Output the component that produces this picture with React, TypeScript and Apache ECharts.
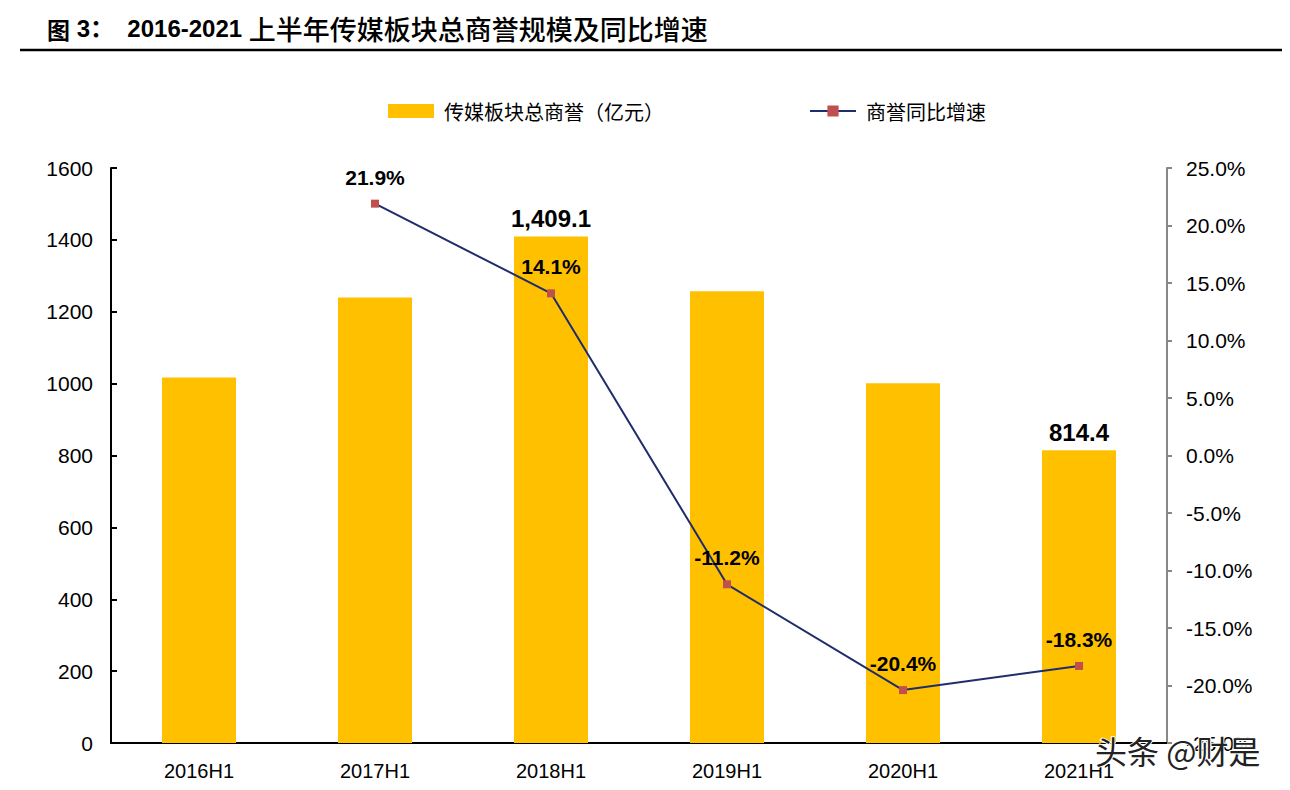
import React, { useEffect, useRef } from "react";
import * as echarts from "echarts";

const categories = ["2016H1", "2017H1", "2018H1", "2019H1", "2020H1", "2021H1"];
const goodwill = [1017, 1240, 1409.1, 1257, 1001, 814.4];
const goodwillLabelShown = [false, false, true, false, false, true];
const growth: (number | null)[] = [null, 21.9, 14.1, -11.2, -20.4, -18.3];
const titlePrefix = "图";
const titleNumber = " 3：  2016-2021 ";
const titleMain = "上半年传媒板块总商誉规模及同比增速";
const barName = "传媒板块总商誉（亿元）";
const lineName = "商誉同比增速";
const watermark = "头条 @财是";

const FONT = "'Liberation Sans', Arial, 'Noto Sans CJK SC', sans-serif";
const CJK = "'Noto Sans CJK SC', sans-serif";

export default function App() {
  const ref = useRef<HTMLDivElement>(null);
  useEffect(() => {
    const chart = echarts.init(ref.current!, null, { renderer: "svg" });
    chart.setOption({
      animation: false,
      textStyle: { fontFamily: FONT },
      graphic: [
        {
          type: "text",
          left: 39,
          top: 7,
          style: {
            text: `{a|${titlePrefix}}{b|${titleNumber}}{c|${titleMain}}`,
            rich: {
              a: { fontFamily: CJK, fontSize: 23, fontWeight: "bold", fill: "#000", color: "#000" },
              b: { fontFamily: FONT, fontSize: 24, fontWeight: "bold", fill: "#000", color: "#000" },
              c: { fontFamily: CJK, fontSize: 27, fontWeight: 500, fill: "#000", color: "#000" },
            },
          },
        },
        {
          type: "line",
          shape: { x1: 12, y1: 42, x2: 1275, y2: 42 },
          style: { stroke: "#000", lineWidth: 2.5 },
        },
        {
          type: "text",
          left: 1086,
          top: 725,
          z: 100,
          style: {
            text: watermark,
            font: `32px ${CJK}`,
            fill: "#222",
            stroke: "#fff",
            lineWidth: 2,
          },
        },
      ],
      legend: {
        top: 88,
        left: 375,
        itemGap: 145,
        itemWidth: 46,
        itemHeight: 14,
        textStyle: { fontSize: 20, color: "#000", fontFamily: CJK, padding: [0, 0, 0, 5] },
        data: [
          { name: barName, icon: "rect" },
          { name: lineName },
        ],
      },
      grid: { left: 103, right: 115, top: 160, bottom: 47, containLabel: false },
      xAxis: {
        type: "category",
        data: categories,
        axisLine: { lineStyle: { color: "#000", width: 2 } },
        axisTick: { inside: true, length: 6, lineStyle: { color: "#000", width: 2 } },
        axisLabel: { fontSize: 20, color: "#000", margin: 18 },
      },
      yAxis: [
        {
          type: "value",
          min: 0,
          max: 1600,
          interval: 200,
          axisLine: { show: true, lineStyle: { color: "#000", width: 2 } },
          axisTick: { show: true, inside: true, length: 6, lineStyle: { color: "#000", width: 2 } },
          axisLabel: { fontSize: 21, color: "#000", margin: 18, formatter: (v: number) => String(v) },
          splitLine: { show: false },
        },
        {
          type: "value",
          min: -25,
          max: 25,
          interval: 5,
          position: "right",
          axisLine: { show: true, lineStyle: { color: "#888", width: 2 } },
          axisTick: { show: true, inside: false, length: 5, lineStyle: { color: "#888", width: 2 } },
          axisLabel: {
            fontSize: 21,
            color: "#000",
            margin: 19,
            formatter: (v: number) => v.toFixed(1) + "%",
          },
          splitLine: { show: false },
        },
      ],
      series: [
        {
          name: barName,
          type: "bar",
          yAxisIndex: 0,
          barWidth: 74,
          itemStyle: { color: "#FFC000" },
          data: goodwill.map((v, i) => ({
            value: v,
            label: {
              show: goodwillLabelShown[i],
              position: "top",
              distance: 6,
              fontSize: 24,
              fontWeight: "bold",
              color: "#000",
              formatter: (p: any) =>
                Number(p.value).toLocaleString("en-US", { minimumFractionDigits: 1, maximumFractionDigits: 1 }),
            },
          })),
        },
        {
          name: lineName,
          type: "line",
          yAxisIndex: 1,
          data: growth,
          symbol: "rect",
          symbolSize: 8,
          connectNulls: false,
          lineStyle: { color: "#1F2D6B", width: 2 },
          itemStyle: { color: "#C0504D" },
          label: {
            show: true,
            position: "top",
            distance: 12,
            fontSize: 21,
            fontWeight: "bold",
            color: "#000",
            formatter: (p: any) => Number(p.value).toFixed(1) + "%",
          },
        },
      ],
    });
    return () => chart.dispose();
  }, []);
  return <div ref={ref} style={{ width: 1274, height: 782 }} />;
}
